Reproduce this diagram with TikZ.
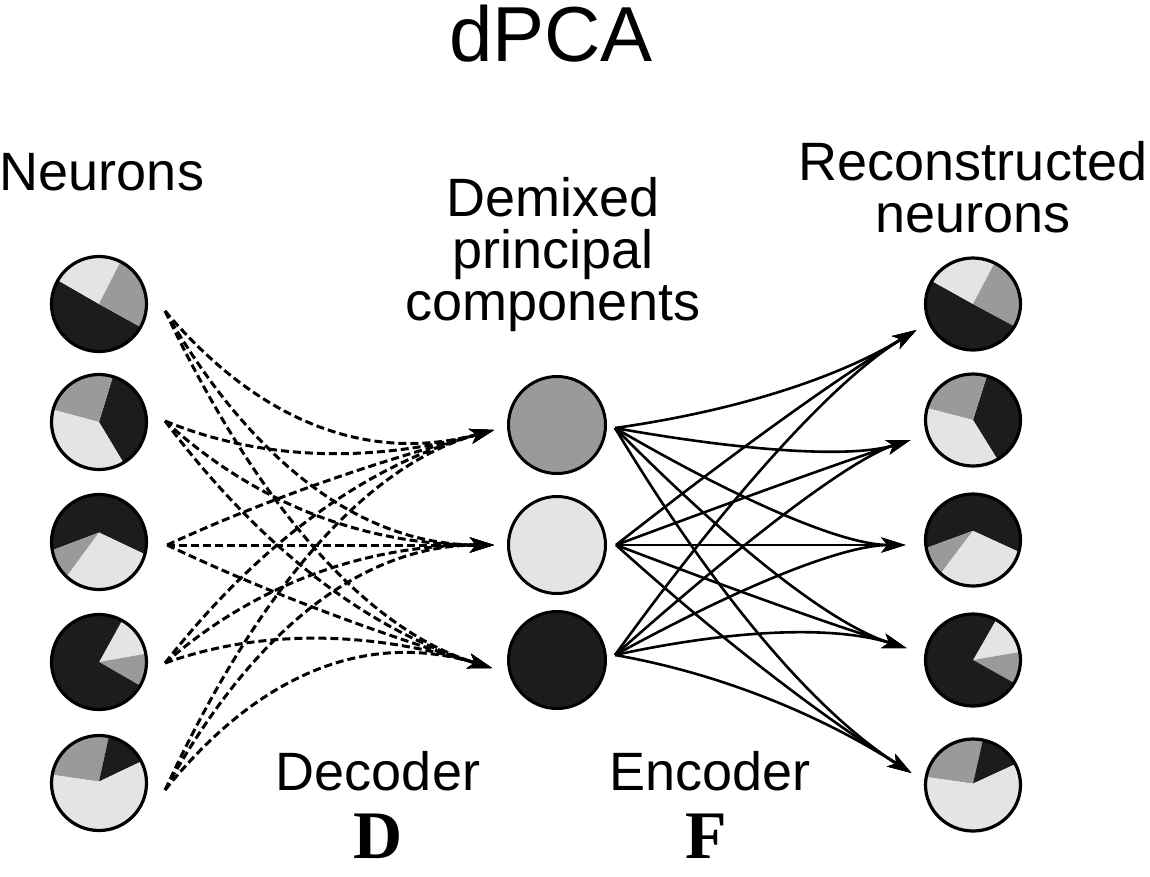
\documentclass[tikz,border=0pt]{standalone}
\usepackage{fontspec}
\setmainfont{Liberation Sans}
\newfontfamily\matfont{Liberation Serif}
\usetikzlibrary{arrows.meta,calc,shapes.geometric}
\definecolor{pdark}{HTML}{1C1C1C}
\definecolor{pmid}{HTML}{9A9A9A}
\definecolor{plight}{HTML}{E4E4E4}
\newcommand{\wedgefill}[5]{\fill[#1] (#4,#5) -- (#2:1) arc[start angle=#2, end angle=#3, radius=1] -- cycle;}
\newcommand{\pieone}{\wedgefill{pdark}{29}{210}{0}{0}\wedgefill{plight}{210}{297}{0}{0}\wedgefill{pmid}{297}{389}{0}{0}}
\newcommand{\pietwo}{\wedgefill{pdark}{287}{419}{0}{0}\wedgefill{pmid}{195}{287}{0}{0}\wedgefill{plight}{59}{195}{0}{0}}
\newcommand{\piethree}{\wedgefill{pdark}{170}{375}{0}{-0.2}\wedgefill{pmid}{133}{170}{0}{-0.2}\wedgefill{plight}{15}{133}{0}{-0.2}}
\newcommand{\piefour}{\wedgefill{plight}{299}{350}{0}{0}\wedgefill{pmid}{350}{390}{0}{0}\wedgefill{pdark}{30}{299}{0}{0}}
\newcommand{\piefive}{\wedgefill{pmid}{190}{282}{0}{-0.03}\wedgefill{pdark}{282}{333}{0}{-0.03}\wedgefill{plight}{333}{550}{0}{-0.03}}
\begin{document}
\begin{tikzpicture}[x=1pt,y=-1pt,
  lbl/.style={inner sep=0pt, font=\fontsize{54}{52}\selectfont, align=center, anchor=base},
  lpie/.style={circle, draw=black, line width=3.2pt, minimum size=95pt, inner sep=0pt},
  rpie/.style={ellipse, draw=black, line width=3.2pt, minimum width=95pt, minimum height=92pt, inner sep=0pt},
  comp/.style={circle, draw=black, line width=3pt, minimum size=97pt, inner sep=0pt},
  dec/.style={line width=3pt, dash pattern=on 8pt off 4pt, -{Stealth[length=24pt,width=15pt,inset=6pt]}},
  enc/.style={line width=2.6pt, -{Stealth[length=24pt,width=15pt,inset=6pt]}},
  matlbl/.style={inner sep=0pt, font=\matfont\bfseries\fontsize{68}{70}\selectfont, anchor=base}
]
\fill[white] (0,0) rectangle (1150,876);
\useasboundingbox (0,0) rectangle (1150,876);

% pie wedges, left
\begin{scope}[shift={(99,304)}, x=47.5pt, y=-47.5pt]\pieone\end{scope}
\begin{scope}[shift={(99,422)}, x=47.5pt, y=-47.5pt]\pietwo\end{scope}
\begin{scope}[shift={(99,542)}, x=47.5pt, y=-47.5pt]\piethree\end{scope}
\begin{scope}[shift={(99,662)}, x=47.5pt, y=-47.5pt]\piefour\end{scope}
\begin{scope}[shift={(99,783)}, x=47.5pt, y=-47.5pt]\piefive\end{scope}
% pie wedges, right
\begin{scope}[shift={(973,304)}, x=47.5pt, y=-46pt]\pieone\end{scope}
\begin{scope}[shift={(973,420)}, x=47.5pt, y=-46pt]\pietwo\end{scope}
\begin{scope}[shift={(973,540)}, x=47.5pt, y=-46pt]\piethree\end{scope}
\begin{scope}[shift={(973,660)}, x=47.5pt, y=-46pt]\piefour\end{scope}
\begin{scope}[shift={(973,785)}, x=47.5pt, y=-46pt]\piefive\end{scope}

% nodes
\node[lpie] (n1) at (99,304) {};
\node[lpie] (n2) at (99,422) {};
\node[lpie] (n3) at (99,542) {};
\node[lpie] (n4) at (99,662) {};
\node[lpie] (n5) at (99,783) {};
\node[rpie] (r1) at (973,304) {};
\node[rpie] (r2) at (973,420) {};
\node[rpie] (r3) at (973,540) {};
\node[rpie] (r4) at (973,660) {};
\node[rpie] (r5) at (973,785) {};
\node[comp, fill=pmid] (c1) at (557,425) {};
\node[comp, fill=plight] (c2) at (557,545) {};
\node[comp, fill=pdark] (c3) at (557,660) {};

% labels
\node[lbl, font=\fontsize{78}{80}\selectfont] (title) at (551,61) {dPCA};
\node[lbl] (neurons) at (102,190) {Neurons};
\node[lbl] (dpc) at (553,320) {Demixed\\principal\\components};
\node[lbl] (recon) at (973,232) {Reconstructed\\neurons};
\node[lbl] (decoder) at (378,790) {Decoder};
\node[lbl] (encoder) at (710,790) {Encoder};
\node[matlbl] (dmat) at (378,858) {D};
\node[matlbl] (fmat) at (706,858) {F};

% connector end points
\coordinate (s1) at ($(n1.east)+(17,7)$);
\coordinate (s2) at ($(n2.east)+(17,-1)$);
\coordinate (s3) at ($(n3.east)+(19,3)$);
\coordinate (s4) at ($(n4.east)+(17,1)$);
\coordinate (s5) at ($(n5.east)+(17,7)$);
\coordinate (t1) at ($(c1.west)+(-13,5)$);
\coordinate (t2) at ($(c2.west)+(-13,0)$);
\coordinate (t3) at ($(c3.west)+(-15,8)$);
\coordinate (e1) at ($(c1.east)+(8,3)$);
\coordinate (e2) at ($(c2.east)+(9,0)$);
\coordinate (e3) at ($(c3.east)+(8,-5)$);
\coordinate (u1) at ($(r1.west)+(-7.5,26)$);
\coordinate (u2) at ($(r2.west)+(-13.5,20)$);
\coordinate (u3) at ($(r3.west)+(-18.5,5)$);
\coordinate (u4) at ($(r4.west)+(-17.5,-12)$);
\coordinate (u5) at ($(r5.west)+(-12.5,-12)$);
% control points
\coordinate (q1) at (308,480);
\coordinate (q2) at (300,545);
\coordinate (q3) at (308,612);
\coordinate (p1) at (798,402);
\coordinate (p2) at (828,466);
\coordinate (p3) at (816,545);
\coordinate (p4) at (800,615);
\coordinate (p5) at (768,682);

% decoder
\foreach \i in {1,...,5}{
  \foreach \j in {1,2,3}{
    \draw[dec] (s\i) .. controls ($(s\i)!0.667!(q\j)$) and ($(t\j)!0.667!(q\j)$) .. (t\j);
  }
}
% encoder
\foreach \i in {1,2,3}{
  \foreach \j in {1,...,5}{
    \draw[enc] (e\i) .. controls ($(e\i)!0.667!(p\j)$) and ($(u\j)!0.667!(p\j)$) .. (u\j);
  }
}
\end{tikzpicture}
\end{document}
